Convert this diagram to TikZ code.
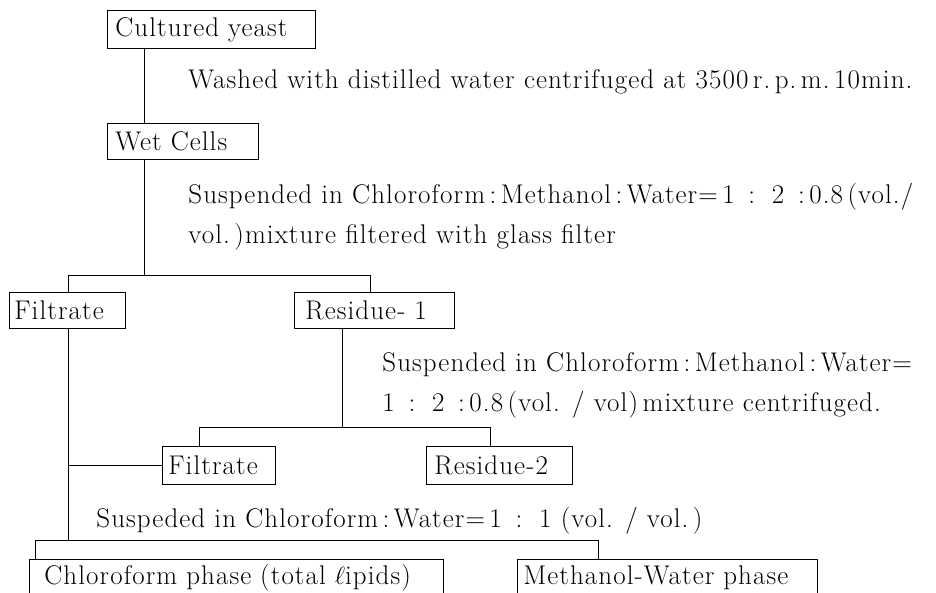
\documentclass[tikz,border=0pt]{standalone}
\usepackage{fontspec}
\setmainfont{Latin Modern Roman}[LetterSpace=4]
\usepackage{tikz}

\begin{document}
\begin{tikzpicture}[x=1pt, y=-1pt, line width=0.8pt,
    font=\fontsize{27}{40}\selectfont,
    box/.style={draw, anchor=north west, inner xsep=6pt, inner ysep=0pt, align=left},
    step note/.style={anchor=west, inner sep=0pt, align=left}]
        \useasboundingbox (0,0) rectangle (936,593);
        \clip (0,0) rectangle (936,593);

        % Boxes
        \node[box, minimum width=208pt, minimum height=38pt, text width=192pt, inner xsep=8pt] (yeast) at (107,10) {Cultured yeast};
        \node[box, minimum width=151pt, minimum height=36pt, text width=135pt, inner xsep=8pt] (wet) at (107,123) {Wet Cells};
        \node[box, minimum width=116pt, minimum height=36pt, text width=106pt, inner xsep=5pt] (filtA) at (9,292) {Filtrate};
        \node[box, minimum width=160pt, minimum height=36pt, text width=138pt, inner xsep=11pt] (resA) at (294,292) {Residue- 1};
        \node[box, minimum width=113pt, minimum height=38pt, text width=101pt, inner xsep=6pt] (filtB) at (162,446) {Filtrate};
        \node[box, minimum width=146pt, minimum height=38pt, text width=130pt, inner xsep=8pt] (resB) at (426,446) {Residue-2};
        \node[box, minimum width=414pt, minimum height=36pt, text width=384pt, inner xsep=15pt] (chlo) at (29,559) {Chloroform phase (total $\ell$ipids)};
        \node[box, minimum width=300pt, minimum height=36pt, text width=288pt, inner xsep=6pt] (meoh) at (517,559) {Methanol-Water phase};

        % Treatment notes
        \node[step note] (wash) at (188,82) {Washed with distilled water centrifuged at 3500\,r.\,p.\,m.\,10min.};
        \node[step note] (mixA) at (188,217) {Suspended in Chloroform\,:\,Methanol\,:\,Water=\,1 \,:\, 2 \,:\,0.8\,(vol./\\vol.\,)mixture filtered with glass filter};
        \node[step note] (mixB) at (382,385) {Suspended in Chloroform\,:\,Methanol\,:\,Water=\\1 \,:\, 2 \,:\,0.8\,(vol. / vol)\,mixture centrifuged.};
        \node[step note] (mixC) at (96,521) {Suspeded in Chloroform\,:\,Water=\,1 \,:\, 1 (vol. / vol.\,)};

        % Branch points
        \coordinate (trunk) at (144,275);
        \coordinate (splitL) at (68,275);
        \coordinate (splitR) at (370,275);
        \coordinate (subsplit) at (342,427);
        \coordinate (subL) at (199,427);
        \coordinate (subR) at (490,427);
        \coordinate (lastL) at (35,540);
        \coordinate (lastM) at (68,540);
        \coordinate (lastR) at (598,540);

        % Connectors
        \draw (yeast.south -| trunk) -- (wet.north -| trunk);
        \draw (wet.south -| trunk) -- (trunk);
        \draw (filtA.north -| splitL) -- (splitL) -- (splitR) -- (resA.north -| splitR);
        \draw (resA.south -| subsplit) -- (subsplit);
        \draw (filtB.north -| subL) -- (subL) -- (subR) -- (resB.north -| subR);
        \draw (filtA.south -| splitL) -- (lastM);
        \draw (splitL |- filtB.west) -- (filtB.west);
        \draw (chlo.north -| lastL) -- (lastL) -- (lastR) -- (meoh.north -| lastR);
    \end{tikzpicture}
\end{document}
